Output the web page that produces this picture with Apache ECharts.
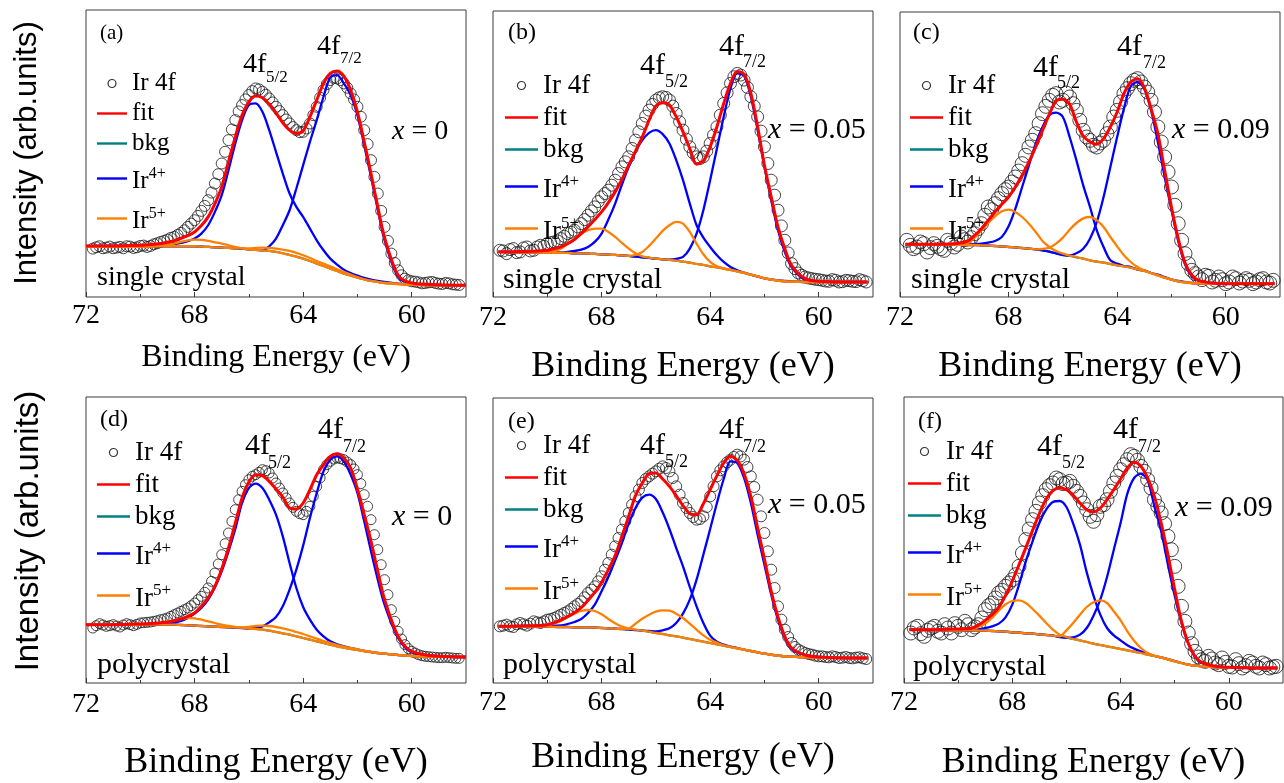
<!DOCTYPE html>
<html><head><meta charset="utf-8">
<script src="https://cdn.jsdelivr.net/npm/echarts@6/dist/echarts.min.js"></script>
<style>html,body{margin:0;padding:0;background:#fff}#c{width:1284px;height:783px}</style>
</head><body><div id="c"></div><script>
// ---------- data ----------
const xTickValues = [72, 68, 64, 60];
const xMinorTickValues = [70, 66, 62];
const energyFull  = [72,71,70,69.5,69.25,69,68.75,68.5,68.25,68,67.75,67.5,67.25,67,66.75,66.5,66.25,66,65.75,65.5,65.25,65,64.75,64.5,64.25,64,63.75,63.5,63.25,63,62.75,62.5,62.25,62,61.75,61.5,61.25,61,60.5,60,59,58];
const energyInner = [71.8,71,70,69.5,69.25,69,68.75,68.5,68.25,68,67.75,67.5,67.25,67,66.75,66.5,66.25,66,65.75,65.5,65.25,65,64.75,64.5,64.25,64,63.75,63.5,63.25,63,62.75,62.5,62.25,62,61.75,61.5,61.25,61,60.5,60,59,58.2];
const energyData  = [71.75,71.625,71.5,71.375,71.25,71.125,71,70.875,70.75,70.625,70.5,70.375,70.25,70.125,70,69.875,69.75,69.625,69.5,69.375,69.25,69.125,69,68.875,68.75,68.625,68.5,68.375,68.25,68.125,68,67.875,67.75,67.625,67.5,67.375,67.25,67.125,67,66.875,66.75,66.625,66.5,66.375,66.25,66.125,66,65.875,65.75,65.625,65.5,65.375,65.25,65.125,65,64.875,64.75,64.625,64.5,64.375,64.25,64.125,64,63.875,63.75,63.625,63.5,63.375,63.25,63.125,63,62.875,62.75,62.625,62.5,62.375,62.25,62.125,62,61.875,61.75,61.625,61.5,61.375,61.25,61.125,61,60.875,60.75,60.625,60.5,60.375,60.25,60.125,60,59.875,59.75,59.625,59.5,59.375,59.25,59.125,59,58.875,58.75,58.625,58.5,58.375,58.25];

// panel (a) single crystal, x = 0
const dataA = [145,149,152,146,148,151,146,148,150,146,152,151,147,149,153,154,150,153,158,161,165,168,172,177,180,186,192,200,210,220,230,243,258,273,290,313,340,368,400,435,470,502,530,556,575,592,605,617,625,622,615,606,595,583,570,557,545,532,520,509,500,494,495,505,520,545,570,597,620,638,650,657,655,650,640,627,610,592,570,540,500,458,410,360,310,258,210,168,130,102,80,65,55,50,47,46,44,41,42,44,45,42,40,39,42,41,38,37,36];
const fitA  = [153,153,155,158,160,164,169,176,184,195,214,240,280,330,405,480,545,585,602,597,578,552,522,500,490,498,540,590,640,670,677,662,620,555,465,370,270,178,65,42,37,35];
const bkgA  = [150,150,151,151,152,152,152,152,152,152,151,150,149,148,147,146,145,143,141,140,138,135,131,126,121,115,108,100,93,85,78,70,64,58,53,48,45,42,39,37,35,35];
const ir4A1 = [153,153,153,154,155,156,158,162,167,175,190,215,255,305,380,460,530,575,580,555,500,435,370,310,270,240,205,170,140,115,97,82,72,64,57,52,48,45,40,37,35,35];
const ir4A2 = [150,150,151,151,152,152,152,152,152,152,151,150,149,148,147,146,145,143,141,140,152,175,215,260,325,395,465,530,600,658,665,640,605,545,455,360,262,170,60,40,35,35];
const ir5A1 = [150,150,151,152,154,156,160,165,170,172,171,168,164,160,155,150,146,143,141,140,138,135,131,126,121,115,108,100,93,85,78,70,64,58,53,48,45,42,39,37,35,35];
const ir5A2 = [150,150,151,151,152,152,152,152,152,152,151,150,149,148,147,146,146,146,147,148,147,145,142,138,132,125,117,108,100,92,83,75,67,60,53,48,45,42,39,37,35,35];

// panel (b) single crystal, x = 0.05
const dataB = [140,138,130,142,145,133,135,147,150,138,140,150,155,152,160,163,165,168,175,182,190,194,200,210,220,232,245,258,270,286,300,310,320,335,350,370,390,405,420,445,470,495,520,542,560,577,590,597,600,598,590,572,550,525,500,473,450,432,420,415,420,437,460,485,510,545,580,612,640,660,670,665,650,628,600,572,540,497,450,400,350,305,260,213,170,132,100,85,72,65,60,57,55,53,52,50,48,47,52,50,45,46,50,49,47,46,52,49,45];
const fitB  = [135,136,140,150,160,172,190,210,232,255,283,315,352,395,437,480,530,572,582,575,540,495,445,398,408,450,510,580,640,676,668,610,510,395,300,210,145,95,55,47,45,45];
const bkgB  = [135,134,133,132,132,131,131,130,129,128,127,126,125,123,121,119,117,115,113,111,109,106,103,99,96,92,89,85,81,77,72,67,62,56,52,49,47,46,45,45,45,45];
const ir4B1 = [135,134,133,133,135,138,142,150,165,190,232,280,337,390,435,470,492,500,488,460,410,350,280,215,178,150,125,105,90,80,73,67,61,56,53,50,48,47,45,45,45,45];
const ir4B2 = [135,134,133,132,132,131,131,130,129,128,127,126,125,123,121,119,117,115,113,112,114,120,145,190,260,350,445,540,625,670,663,600,500,390,290,200,135,90,52,47,45,45];
const ir5B1 = [135,134,133,145,160,175,190,200,205,205,195,180,162,145,131,122,118,115,113,111,109,106,103,99,96,92,89,85,81,77,72,67,62,56,52,49,47,46,45,45,45,45];
const ir5B2 = [135,134,133,132,132,131,131,130,129,128,127,126,125,123,126,135,153,175,198,215,225,220,195,160,128,105,92,86,81,77,72,67,62,56,52,49,47,46,45,45,45,45];

// panel (c) single crystal, x = 0.09
const dataC = [170,155,145,150,165,160,135,148,160,152,145,140,170,162,150,158,180,172,165,178,190,205,220,245,270,262,280,295,310,322,330,345,360,378,400,425,450,470,490,520,550,572,590,605,610,585,590,612,600,580,560,530,500,480,470,455,450,462,470,490,510,540,560,585,610,625,640,650,655,645,630,615,590,555,510,465,420,375,330,275,220,170,130,100,80,70,60,52,65,62,45,50,60,52,40,45,60,55,42,48,55,50,40,45,52,55,45,42,50];
const fitC  = [158,158,160,168,185,205,230,255,278,300,330,365,405,450,500,548,588,593,578,525,483,466,458,475,510,555,610,645,655,628,565,490,380,270,175,103,66,50,42,40,40,40];
const bkgC  = [158,158,157,156,156,155,154,153,152,150,149,147,145,143,140,136,131,126,123,119,115,110,106,103,99,95,92,88,83,78,72,65,58,52,47,44,42,41,40,40,40,40];
const ir4C1 = [158,158,158,158,159,160,163,168,180,212,265,330,395,460,510,545,553,540,480,410,335,270,200,150,110,100,93,90,82,80,72,67,60,53,48,45,42,41,40,40,40,40];
const ir4C2 = [158,158,157,156,156,155,154,153,152,150,149,147,145,143,140,136,131,126,125,131,145,175,225,300,390,480,565,632,645,625,560,465,360,262,168,98,62,48,42,40,40,40];
const ir5C1 = [158,158,157,162,178,200,222,242,257,262,255,240,220,195,168,150,138,130,124,120,115,110,106,103,99,95,92,88,83,78,72,65,58,52,47,44,42,41,40,40,40,40];
const ir5C2 = [158,158,157,156,156,155,154,153,152,150,149,147,145,143,144,148,160,178,202,222,236,240,230,210,180,152,125,105,90,80,72,65,58,52,47,44,42,41,40,40,40,40];

// panel (d) polycrystal, x = 0
const dataD = [165,172,178,174,170,172,175,171,168,174,178,175,172,176,180,181,182,183,185,187,190,192,195,200,205,210,215,220,225,232,240,250,260,272,285,305,330,357,385,418,450,485,520,550,575,595,610,620,625,632,640,637,630,615,600,585,570,555,540,527,515,508,505,515,530,560,590,615,640,655,665,672,675,673,670,663,655,642,625,598,565,530,490,445,400,355,310,265,220,185,155,132,115,103,95,90,85,82,80,79,78,77,76,76,77,76,75,74,74];
const fitD  = [175,175,177,179,181,183,187,192,200,210,230,255,290,342,405,480,555,603,625,622,605,582,558,525,522,540,580,625,655,680,688,675,645,582,505,425,335,250,140,95,80,78];
const bkgD  = [175,175,175,175,175,175,175,174,173,172,171,170,169,168,167,166,165,163,162,160,157,153,149,145,140,135,130,125,120,115,110,106,102,99,96,93,90,88,84,81,79,78];
const ir4D1 = [175,175,175,175,176,178,181,186,195,208,225,250,287,335,395,462,540,585,598,585,550,505,440,360,285,228,190,160,140,125,116,110,105,101,96,93,90,88,84,81,79,78];
const ir4D2 = [175,175,175,175,175,175,175,174,173,172,171,170,169,168,167,166,165,164,165,170,182,198,230,280,340,412,495,570,635,670,680,665,625,570,485,395,310,235,135,92,80,78];
const ir5D1 = [175,175,176,178,181,184,188,192,195,194,190,185,180,175,171,168,166,163,162,160,157,153,149,145,140,135,130,125,120,115,110,106,102,99,96,93,90,88,84,81,79,78];
const ir5D2 = [175,175,175,175,175,175,175,174,173,172,171,170,169,168,167,167,167,168,171,172,171,168,164,159,153,147,140,133,126,120,114,109,105,101,96,93,90,88,84,81,79,78];

// panel (e) polycrystal, x = 0.05
const dataE = [170,172,175,170,168,176,180,176,172,178,185,182,180,185,190,192,195,200,205,210,215,222,230,237,245,257,270,280,290,305,320,340,360,385,410,435,460,485,510,535,560,580,600,612,620,628,635,643,650,645,635,615,590,565,540,525,510,498,490,492,500,528,560,590,620,638,650,662,670,678,685,680,670,648,620,588,550,500,450,395,340,285,230,190,160,138,120,108,100,95,90,87,85,82,80,80,78,77,80,78,75,76,78,75,74,76,77,74,72];
const fitE  = [170,171,175,189,199,211,226,248,272,302,340,382,440,500,562,600,628,630,612,590,562,532,508,505,538,580,622,660,680,668,628,560,465,372,275,198,140,105,84,78,75,75];
const bkgE  = [170,170,169,168,168,167,167,166,166,165,164,163,162,161,159,157,154,150,147,143,140,136,132,128,124,120,116,112,108,104,100,96,92,88,85,82,80,79,77,76,75,75];
const ir4E1 = [170,171,172,173,177,183,192,210,235,275,318,368,420,478,525,556,565,552,512,462,405,350,288,230,180,142,124,115,109,105,100,96,92,88,85,82,80,79,77,76,75,75];
const ir4E2 = [170,170,169,168,168,167,167,166,166,165,164,163,162,161,159,157,156,155,158,164,180,208,250,310,385,462,540,612,665,660,615,540,445,355,265,190,135,102,84,78,75,75];
const ir5E1 = [170,170,173,186,198,208,216,219,216,206,192,179,169,163,160,157,154,150,147,143,140,136,132,128,124,120,116,112,108,104,100,96,92,88,85,82,80,79,77,76,75,75];
const ir5E2 = [170,170,169,168,168,167,167,166,166,165,164,163,162,163,178,193,205,214,218,217,208,195,178,160,143,130,121,113,108,104,100,96,92,88,85,82,80,79,77,76,75,75];

// panel (f) polycrystal, x = 0.09
const dataF = [150,165,170,148,140,158,165,170,155,150,175,165,150,178,170,160,185,175,160,168,175,195,220,232,240,255,270,278,290,300,310,325,350,390,430,462,490,515,540,562,580,592,600,615,610,598,600,605,590,575,560,540,520,500,485,505,530,535,550,575,600,620,640,655,670,685,680,668,650,635,610,585,550,530,510,478,440,400,350,290,230,185,150,118,95,78,70,65,80,72,60,55,75,62,50,48,70,58,45,52,65,60,50,45,60,55,45,48,50];
const fitF  = [160,160,162,164,174,188,205,227,262,306,355,406,458,508,552,577,585,580,563,540,520,513,525,550,580,612,645,662,650,615,560,480,385,280,185,120,80,62,50,47,45,45];
const bkgF  = [160,159,158,158,157,157,156,155,154,152,151,149,148,146,144,142,139,136,132,128,123,118,114,110,106,102,98,94,90,85,81,76,71,65,60,55,52,50,47,46,45,45];
const ir4F1 = [160,159,158,159,161,165,170,178,197,235,295,365,425,480,520,543,546,528,478,415,332,262,205,165,143,128,113,103,95,88,81,77,72,66,60,55,52,50,47,46,45,45];
const ir4F2 = [160,159,158,158,157,157,156,155,154,152,151,149,148,146,144,142,138,136,137,145,165,202,250,318,400,480,568,615,628,608,530,455,355,262,180,118,78,60,50,47,45,45];
const ir5F1 = [160,159,158,161,168,178,195,217,236,246,248,240,222,202,180,160,145,138,132,128,123,118,114,110,106,102,98,94,90,85,81,76,71,65,60,55,52,50,47,46,45,45];
const ir5F2 = [160,159,158,158,157,157,156,155,154,152,151,149,148,146,144,142,140,158,180,205,228,242,248,240,215,188,155,127,105,90,82,77,71,65,60,55,52,50,47,46,45,45];

const panelLabels  = ['(a)','(b)','(c)','(d)','(e)','(f)'];
const dopingLabels = ['0','0.05','0.09','0','0.05','0.09'];
const sampleLabels = ['single crystal','single crystal','single crystal','polycrystal','polycrystal','polycrystal'];
const peakLabels = ['4f', '5/2', '7/2'];
const legendNames = ['Ir 4f','fit','bkg','Ir4+','Ir5+'];
const xAxisTitle = 'Binding Energy (eV)';
const yAxisTitle = 'Intensity (arb.units)';

const panelData = [
  {E: energyFull,  d: dataA, fit: fitA, bkg: bkgA, ir4: [ir4A1, ir4A2], ir5: [ir5A1, ir5A2]},
  {E: energyInner, d: dataB, fit: fitB, bkg: bkgB, ir4: [ir4B1, ir4B2], ir5: [ir5B1, ir5B2]},
  {E: energyInner, d: dataC, fit: fitC, bkg: bkgC, ir4: [ir4C1, ir4C2], ir5: [ir5C1, ir5C2]},
  {E: energyFull,  d: dataD, fit: fitD, bkg: bkgD, ir4: [ir4D1, ir4D2], ir5: [ir5D1, ir5D2]},
  {E: energyInner, d: dataE, fit: fitE, bkg: bkgE, ir4: [ir4E1, ir4E2], ir5: [ir5E1, ir5E2]},
  {E: energyInner, d: dataF, fit: fitF, bkg: bkgF, ir4: [ir4F1, ir4F2], ir5: [ir5F1, ir5F2]}
];

// ---------- layout ----------
const SERIF = '"Liberation Serif","Times New Roman",serif';
const SANS = '"Liberation Sans",Arial,sans-serif';
const layout = [
  {grid:[86,10,380,287], ymax:860, sym:11, fAxis:32, fLeg:25, fLab:21, fPeak:28, fSub:17, fX:28, fS:28, gap:45, mg:5,
   leg:[97,71,30], lab:[100,33], p5:[243,65], p5s:[266,78], p7:[317,47], p7s:[340,59], xl:[392,132], smp:[97,278]},
  {grid:[493,11,380,286], ymax:857, sym:12, fAxis:36, fLeg:27, fLab:24, fPeak:30, fSub:18, fX:30, fS:30, gap:52, mg:7,
   leg:[505,72,33], lab:[508,33], p5:[640,66], p5s:[665,82], p7:[719,47], p7s:[743,62], xl:[768,130], smp:[503,280]},
  {grid:[900,12,380,285], ymax:855, sym:14, fAxis:36, fLeg:27, fLab:24, fPeak:30, fSub:18, fX:30, fS:30, gap:52, mg:7,
   leg:[910,72,33], lab:[913,33], p5:[1033,68], p5s:[1057,83], p7:[1117,47], p7s:[1143,63], xl:[1172,130], smp:[911,280]},
  {grid:[86,397,380,286], ymax:858, sym:10, fAxis:36, fLeg:27, fLab:24, fPeak:30, fSub:18, fX:30, fS:30, gap:62, mg:8,
   leg:[97,439,33], lab:[100,420], p5:[245,446], p5s:[268,463], p7:[318,430], p7s:[343,447], xl:[392,517], smp:[97,665]},
  {grid:[493,398,380,285], ymax:855, sym:11, fAxis:36, fLeg:27, fLab:24, fPeak:30, fSub:18, fX:30, fS:30, gap:57, mg:6,
   leg:[505,432,33], lab:[508,422], p5:[640,446], p5s:[665,462], p7:[719,430], p7s:[743,447], xl:[768,505], smp:[503,665]},
  {grid:[904,397,379,286], ymax:858, sym:14, fAxis:36, fLeg:27, fLab:24, fPeak:30, fSub:18, fX:30, fS:30, gap:62, mg:6,
   leg:[908,438,33], lab:[918,422], p5:[1037,447], p5s:[1062,463], p7:[1113,430], p7s:[1138,447], xl:[1175,508], smp:[913,667]}
];
const COL = {fit:'#ff0000', bkg:'#008080', ir4:'#0000ff', ir5:'#ff8000', pt:'#1a1a1a', frame:'#3a3a3a'};
const LINE_ICON = 'path://M0,0H30V2.4H0Z';

function pairs(E, v){ return E.map((e,i)=>[e, v[i]]); }
function txt(x, y, text, size, italic){
  return {type:'text', x:x, y:y, silent:true, z:100,
    style:{text:text, font:(italic?'italic ':'')+size+'px '+SERIF, fill:'#000',
      align:'left', verticalAlign:'middle', textAlign:'left', textVerticalAlign:'middle'}};
}

const grids=[], xAxes=[], yAxes=[], series=[], legends=[], graphics=[];
panelData.forEach((p, i) => {
  const L = layout[i];
  grids.push({left:L.grid[0], top:L.grid[1], width:L.grid[2], height:L.grid[3], show:true,
    borderColor:COL.frame, borderWidth:1, backgroundColor:'transparent'});
  const xi = xAxes.length;
  xAxes.push({gridIndex:i, type:'value', min:58, max:72, inverse:true, position:'bottom',
    axisLine:{show:false}, splitLine:{show:false},
    axisTick:{show:true, inside:true, length:5, customValues:xTickValues, lineStyle:{color:COL.frame, width:1}},
    axisLabel:{show:true, customValues:xTickValues, margin:L.mg, fontFamily:SERIF, fontSize:28, color:'#000'},
    name:xAxisTitle, nameLocation:'middle', nameGap:L.gap,
    nameTextStyle:{fontFamily:SERIF, fontSize:L.fAxis, color:'#000'}});
  xAxes.push({gridIndex:i, type:'value', min:58, max:72, inverse:true, position:'bottom',
    axisLine:{show:false}, splitLine:{show:false}, axisLabel:{show:false},
    axisTick:{show:true, inside:true, length:3, customValues:xMinorTickValues, lineStyle:{color:COL.frame, width:1}}});
  yAxes.push({gridIndex:i, type:'value', min:0, max:L.ymax, show:false});

  const base = {xAxisIndex:xi, yAxisIndex:i, silent:true, animation:false};
  series.push(Object.assign({}, base, {type:'scatter', name:legendNames[0], data:pairs(energyData, p.d),
    symbol:'circle', symbolSize:L.sym, z:2,
    itemStyle:{color:'rgba(0,0,0,0)', borderColor:COL.pt, borderWidth:1}}));
  const line = (name, vals, color, w, z) => Object.assign({}, base, {type:'line', name:name, data:pairs(p.E, vals),
    symbol:'none', smooth:0.3, z:z, itemStyle:{color:color}, lineStyle:{color:color, width:w}});
  series.push(line(legendNames[2], p.bkg, COL.bkg, 2.2, 3));
  series.push(line(legendNames[3], p.ir4[0], COL.ir4, 2.3, 4));
  series.push(line(legendNames[3], p.ir4[1], COL.ir4, 2.3, 4));
  series.push(line(legendNames[4], p.ir5[0], COL.ir5, 2.3, 5));
  series.push(line(legendNames[4], p.ir5[1], COL.ir5, 2.3, 5));
  series.push(line(legendNames[1], p.fit, COL.fit, 3, 6));

  const fs = L.fLeg, ss = Math.round(fs*0.63);
  legends.push({left:L.leg[0], top:L.leg[1], orient:'vertical', padding:0, itemGap:5,
    itemWidth:L.leg[2], itemHeight:8, selectedMode:false,
    data:[{name:legendNames[0], icon:'circle', itemStyle:{color:'#fff', borderColor:'#000', borderWidth:1.2}},
          {name:legendNames[1], icon:LINE_ICON}, {name:legendNames[2], icon:LINE_ICON},
          {name:legendNames[3], icon:LINE_ICON}, {name:legendNames[4], icon:LINE_ICON}],
    formatter: n => n==='Ir4+' ? '{b|Ir}{s|4+}' : (n==='Ir5+' ? '{b|Ir}{s|5+}' : n),
    textStyle:{fontFamily:SERIF, fontSize:fs, lineHeight:fs, color:'#000',
      rich:{b:{fontFamily:SERIF, fontSize:fs, lineHeight:fs, padding:[8,0,2,0], color:'#000'},
            s:{fontFamily:SERIF, fontSize:ss, lineHeight:ss, verticalAlign:'top', color:'#000'}}}});

  graphics.push(txt(L.lab[0], L.lab[1], panelLabels[i], L.fLab));
  graphics.push(txt(L.p5[0], L.p5[1], peakLabels[0], L.fPeak));
  graphics.push(txt(L.p5s[0], L.p5s[1], peakLabels[1], L.fSub));
  graphics.push(txt(L.p7[0], L.p7[1], peakLabels[0], L.fPeak));
  graphics.push(txt(L.p7s[0], L.p7s[1], peakLabels[2], L.fSub));
  graphics.push(txt(L.xl[0], L.xl[1], 'x', L.fX, true));
  graphics.push(txt(L.xl[0] + L.fX*0.694, L.xl[1], '= ' + dopingLabels[i], L.fX));
  graphics.push(txt(L.smp[0], L.smp[1], sampleLabels[i], L.fS));
});
graphics.push({type:'text', x:27, y:153, rotation:Math.PI/2, silent:true,
  style:{text:yAxisTitle, font:'31px '+SANS, fill:'#000', align:'center', verticalAlign:'middle', textAlign:'center', textVerticalAlign:'middle'}});
graphics.push({type:'text', x:29, y:531, rotation:Math.PI/2, silent:true,
  style:{text:yAxisTitle, font:'33px '+SANS, fill:'#000', align:'center', verticalAlign:'middle', textAlign:'center', textVerticalAlign:'middle'}});

const chart = echarts.init(document.getElementById('c'), null, {renderer:'canvas'});
chart.setOption({animation:false, backgroundColor:'#fff',
  grid:grids, xAxis:xAxes, yAxis:yAxes, series:series, legend:legends, graphic:{elements:graphics}});
</script></body></html>
